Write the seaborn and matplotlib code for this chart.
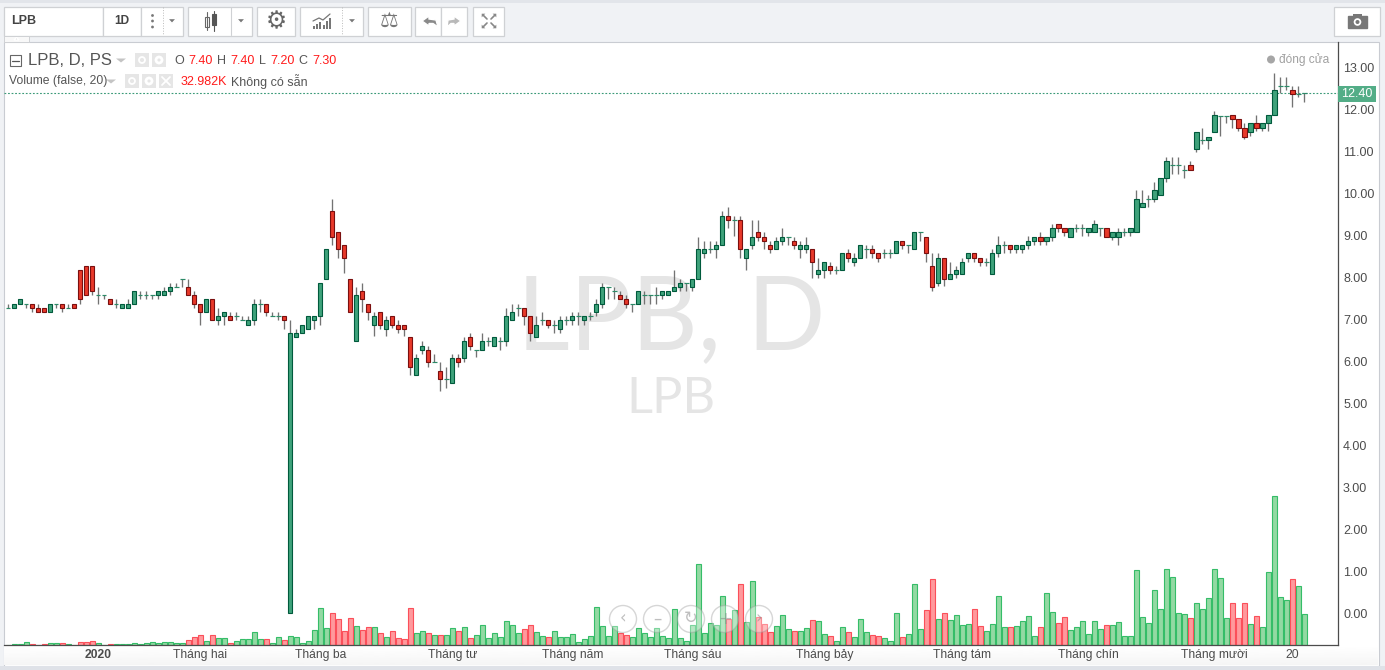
#!/usr/bin/env python3
# LPB daily candles with volume, redrawn from a trading chart screenshot
import numpy as np
import pandas as pd
import seaborn as sns
import matplotlib.pyplot as plt
from matplotlib.patches import Rectangle, Circle, Polygon

opens = [7.26,7.26,7.36,7.36,7.36,7.26,7.26,7.17,7.36,7.36,
         7.26,7.36,8.17,8.26,8.26,7.57,7.57,7.48,7.36,7.26,
         7.26,7.36,7.57,7.57,7.57,7.57,7.57,7.67,7.76,7.95,
         7.76,7.57,7.36,7.17,7.48,6.98,7.07,7.07,7.07,6.98,
         6.86,6.98,7.36,7.36,7.07,7.07,7.07,0.00,6.57,6.67,
         6.76,6.98,7.07,7.95,9.57,9.07,8.76,7.95,6.48,7.67,
         7.36,6.86,7.17,6.76,7.07,6.86,6.86,6.57,5.67,6.26,
         6.26,5.98,5.76,5.57,5.48,6.07,6.07,6.57,6.26,6.26,
         6.48,6.36,6.48,6.48,6.98,7.26,7.26,7.07,6.57,6.98,
         6.98,6.86,6.76,6.98,6.98,7.07,6.98,7.07,7.17,7.36,
         7.76,7.67,7.57,7.48,7.36,7.36,7.57,7.57,7.57,7.57,
         7.57,7.67,7.76,7.86,7.76,7.95,8.57,8.67,8.67,8.76,
         9.45,9.36,9.36,8.45,8.76,9.07,8.95,8.76,8.67,8.86,
         8.95,8.86,8.67,8.67,8.67,8.07,8.17,8.26,8.17,8.17,
         8.57,8.36,8.45,8.67,8.67,8.57,8.57,8.57,8.57,8.86,
         8.76,8.67,9.07,8.95,8.26,7.86,8.45,7.95,8.07,8.07,
         8.45,8.57,8.45,8.36,8.07,8.57,8.76,8.76,8.67,8.67,
         8.76,8.86,8.95,8.86,8.95,9.26,9.17,8.95,9.17,9.17,
         9.07,9.07,9.17,9.17,8.95,8.95,9.07,9.07,9.07,9.67,
         9.86,9.86,9.95,10.36,10.67,10.67,10.55,10.67,11.05,11.26,
         11.26,11.45,11.85,11.85,11.86,11.76,11.55,11.45,11.67,11.55,
         11.67,11.86,12.55,12.55,12.45,12.36,12.38]
highs = [7.36,7.36,7.48,7.36,7.36,7.36,7.26,7.36,7.36,7.36,
         7.36,7.36,8.17,8.26,8.26,7.76,7.57,7.48,7.48,7.36,
         7.48,7.67,7.67,7.67,7.57,7.67,7.76,7.86,7.86,7.95,
         7.95,7.67,7.36,7.48,7.48,7.26,7.17,7.17,7.17,7.07,
         7.07,7.48,7.48,7.36,7.17,7.17,7.07,6.98,6.76,6.86,
         7.07,7.07,7.86,8.67,9.86,9.07,8.76,7.95,7.76,7.86,
         7.36,7.17,7.17,7.07,7.07,6.98,6.86,6.57,6.18,6.48,
         6.36,6.18,5.98,5.86,6.18,6.18,6.57,6.67,6.26,6.67,
         6.57,6.57,6.57,7.26,7.36,7.36,7.26,7.07,7.08,7.17,
         6.98,6.98,7.07,7.07,7.17,7.17,7.07,7.17,7.48,7.86,
         7.76,7.76,7.67,7.57,7.36,7.67,7.67,7.57,7.76,7.67,
         7.67,8.17,7.95,7.86,7.95,8.95,8.86,8.86,8.86,9.57,
         9.67,9.45,9.45,8.67,9.36,9.36,9.07,8.86,8.95,9.18,
         8.95,8.95,8.86,8.95,8.67,8.46,8.36,8.36,8.26,8.57,
         8.67,8.57,8.76,8.76,8.76,8.57,8.67,8.67,8.86,8.86,
         8.76,9.07,9.07,8.95,8.57,8.57,8.45,8.36,8.26,8.45,
         8.57,8.57,8.45,8.45,8.67,8.97,8.86,8.76,8.76,8.76,
         8.97,8.95,9.07,8.95,9.27,9.26,9.17,9.17,9.27,9.27,
         9.17,9.36,9.17,9.17,9.07,9.17,9.17,9.17,10.07,10.07,
         9.95,10.26,10.36,10.86,10.86,10.86,10.67,10.76,11.45,11.55,
         11.35,11.96,11.85,11.85,11.86,11.76,11.67,11.67,11.86,11.67,
         11.86,12.86,12.76,12.76,12.55,12.55,12.38]
lows = [7.26,7.26,7.36,7.26,7.17,7.17,7.17,7.17,7.26,7.17,
        7.26,7.26,7.36,7.57,7.57,7.36,7.48,7.36,7.26,7.26,
        7.26,7.36,7.48,7.48,7.48,7.48,7.57,7.57,7.76,7.76,
        7.57,7.26,6.87,7.17,6.98,6.87,6.87,6.98,6.98,6.98,
        6.86,6.87,7.17,7.07,7.07,6.98,6.77,0.00,6.57,6.67,
        6.76,6.77,6.87,7.95,8.77,8.46,8.09,7.17,6.48,7.17,
        6.98,6.59,6.77,6.59,6.78,6.68,6.59,5.68,5.67,6.18,
        5.87,5.98,5.28,5.37,5.48,5.87,5.98,6.27,6.09,6.26,
        6.37,6.36,6.27,6.37,6.98,7.08,6.87,6.49,6.57,6.87,
        6.78,6.68,6.68,6.87,6.87,6.87,6.87,6.98,7.08,7.27,
        7.48,7.48,7.48,7.27,7.17,7.36,7.37,7.37,7.37,7.48,
        7.57,7.67,7.67,7.67,7.67,7.95,8.46,8.57,8.46,8.76,
        9.18,8.97,8.46,8.17,8.67,8.87,8.67,8.57,8.67,8.76,
        8.76,8.67,8.46,8.57,7.97,7.97,7.97,8.08,8.08,8.17,
        8.37,8.27,8.45,8.46,8.46,8.37,8.46,8.46,8.57,8.67,
        8.57,8.67,8.87,8.37,7.68,7.78,7.78,7.95,7.97,8.07,
        8.36,8.37,8.27,8.27,8.07,8.47,8.57,8.57,8.57,8.57,
        8.67,8.76,8.77,8.76,8.87,9.07,8.97,8.95,9.07,8.97,
        8.97,9.07,8.97,8.95,8.89,8.77,8.97,8.97,9.07,9.67,
        9.68,9.78,9.95,10.26,10.46,10.46,10.36,10.55,10.97,11.17,
        11.06,11.45,11.37,11.67,11.55,11.47,11.28,11.36,11.47,11.47,
        11.47,11.86,12.38,12.46,12.06,12.28,12.18]
closes = [7.26,7.36,7.48,7.36,7.26,7.17,7.17,7.36,7.36,7.26,
          7.26,7.26,7.48,7.57,7.67,7.57,7.57,7.36,7.36,7.36,
          7.36,7.67,7.57,7.57,7.57,7.67,7.67,7.76,7.76,7.95,
          7.57,7.36,7.17,7.48,6.98,7.07,7.17,6.98,7.07,6.98,
          6.98,7.36,7.36,7.17,7.07,7.07,6.98,6.67,6.67,6.86,
          7.07,7.07,7.86,8.67,8.95,8.67,8.45,7.17,7.57,7.48,
          7.17,7.07,6.86,6.98,6.86,6.76,6.76,5.86,6.07,6.36,
          5.98,5.98,5.57,5.57,6.07,5.98,6.48,6.36,6.26,6.48,
          6.48,6.57,6.48,7.07,7.17,7.26,7.07,6.67,6.86,6.98,
          6.86,6.86,6.98,6.98,7.07,7.07,7.07,7.07,7.36,7.76,
          7.76,7.67,7.48,7.36,7.36,7.67,7.57,7.57,7.57,7.67,
          7.67,7.76,7.86,7.86,7.95,8.67,8.67,8.67,8.76,9.45,
          9.36,9.36,8.67,8.67,8.95,8.95,8.86,8.67,8.86,8.95,
          8.95,8.76,8.76,8.76,8.36,8.17,8.36,8.17,8.17,8.57,
          8.45,8.45,8.76,8.67,8.57,8.45,8.57,8.57,8.86,8.76,
          8.76,9.07,9.07,8.57,7.76,8.45,7.95,8.07,8.17,8.36,
          8.57,8.45,8.36,8.36,8.57,8.76,8.76,8.67,8.76,8.76,
          8.86,8.95,8.86,8.95,9.17,9.17,9.07,9.17,9.17,9.17,
          9.17,9.26,9.17,8.95,9.07,9.07,9.07,9.17,9.86,9.76,
          9.86,10.07,10.36,10.76,10.67,10.67,10.55,10.55,11.45,11.26,
          11.35,11.86,11.85,11.85,11.76,11.55,11.35,11.67,11.55,11.67,
          11.86,12.45,12.55,12.55,12.36,12.36,12.38]
# volume in thousand shares
volume = [0,3,3,9,3,0,3,6,6,6,
          3,0,9,9,12,6,0,3,3,3,
          3,6,3,6,9,6,9,9,6,6,
          15,24,30,12,30,21,21,6,12,18,
          18,39,18,18,6,24,15,27,24,6,
          12,45,110,50,96,78,42,81,57,45,
          54,54,36,24,42,21,18,111,36,42,
          36,30,30,30,50,42,54,21,30,60,
          21,36,24,72,60,36,48,60,39,27,
          24,42,24,24,33,9,18,27,114,57,
          27,57,36,30,24,51,36,24,51,27,
          21,108,21,12,60,242,36,66,60,147,
          78,105,183,69,192,84,63,39,57,90,
          48,42,42,51,75,72,33,27,12,54,
          39,24,78,39,30,27,21,12,95,23,
          32,182,47,104,197,77,95,74,89,59,
          62,107,56,41,62,146,53,53,56,71,
          86,26,53,155,98,65,83,44,53,71,
          32,71,47,59,59,68,26,26,224,83,
          65,164,107,227,203,95,92,80,125,107,
          140,227,200,80,125,80,125,62,86,53,
          218,446,143,134,197,176,92]

month_pos = [15, 32, 52, 74, 94, 114, 136, 159, 180, 201, 214]
month_labels = ["2020", "Tháng hai", "Tháng ba", "Tháng tư", "Tháng năm", "Tháng sáu",
                "Tháng bảy", "Tháng tám", "Tháng chín", "Tháng mười", "20"]
price_ticks = list(range(14))
last_price = 12.38

W, H = 1385, 670
GREEN, GREEN_EDGE = "#3fa27b", "#005a3c"
RED, RED_EDGE = "#e8392a", "#7a0f0f"
X_RANGE = (-0.72, 221.5)

sns.set_theme(style="white")
plt.rcParams["font.family"] = ["Liberation Sans", "DejaVu Sans"]

df = pd.DataFrame({"o": opens, "h": highs, "l": lows, "c": closes, "vol": volume})
df["x"] = np.arange(len(df))
df["side"] = np.where(df.c < df.o, "down", "up")

fig = plt.figure(figsize=(W / 100, H / 100), dpi=100, facecolor="#e2e5ea")


def px_axes(x0, y0, x1, y1, **kw):
    return fig.add_axes([x0 / W, 1 - y1 / H, (x1 - x0) / W, (y1 - y0) / H], **kw)


# page chrome behind the chart
bg = px_axes(0, 0, W, H, zorder=0)
bg.set_xlim(0, W)
bg.set_ylim(H, 0)
bg.axis("off")
bg.add_patch(Rectangle((0, 3), W, 667, fc="#f0f2f5", ec="none"))
bg.add_patch(Rectangle((3.5, 41.5), 1375, 624, fc="white", ec="#c9ccd2", lw=0.8))
bg.imshow(np.linspace(1, 0.96, 20).reshape(-1, 1), cmap="gray", vmin=0, vmax=1,
          extent=(4, 1378, 665, 646), aspect="auto", zorder=1)
bg.set_xlim(0, W)
bg.set_ylim(H, 0)
bg.add_patch(Rectangle((0, 666), W, 4, fc="#dfe2e8", ec="none", zorder=2))
bg.add_patch(Rectangle((0, 0), W, 3, fc="#e2e5ea", ec="none", zorder=2))

# volume pane shares the plot box, one unit is a third of a pixel
ax_vol = px_axes(4, 42, 1337.5, 645, zorder=1)
ax_vol.patch.set_alpha(0)
sns.barplot(data=df, x="x", y="vol", hue="side", hue_order=["up", "down"], native_scale=True,
            dodge=False, width=0.94, palette={"up": "#93d9a3", "down": "#ff999c"},
            saturation=1, legend=False, ax=ax_vol)
for cont, edge in zip(ax_vol.containers, ["#35bd68", "#fb4f5a"]):
    for bar in cont:
        bar.set_edgecolor(edge)
        bar.set_linewidth(0.8)
ax_vol.set_xlim(*X_RANGE)
ax_vol.set_ylim(0, 603 * 3)
ax_vol.axis("off")

# watermark sits under the candles
ax_mark = px_axes(4, 42, 1337.5, 645, zorder=0.5)
ax_mark.set_xlim(4, 1337.5)
ax_mark.set_ylim(645, 42)
ax_mark.axis("off")
ax_mark.text(671, 320, "LPB, D", fontsize=74, family="Lato", color="#e5e5e5", ha="center", va="center")
ax_mark.text(671, 399, "LPB", fontsize=36.5, family="Lato", color="#e5e5e5", ha="center", va="center")

# price pane
ax = px_axes(4, 42, 1337.5, 645, zorder=2)
ax.patch.set_alpha(0)
ax.vlines(df.x, df.l, df.h, color="#737373", lw=0.95, zorder=2)
flat = df[df.o == df.c]
ax.hlines(flat.o, flat.x - 0.36, flat.x + 0.36, color="#2c8a68", lw=0.85, zorder=3)
for side, fc, ec in [("up", GREEN, GREEN_EDGE), ("down", RED, RED_EDGE)]:
    part = df[(df.side == side) & (df.o != df.c)]
    ax.bar(part.x, (part.c - part.o).abs(), bottom=part[["o", "c"]].min(axis=1), width=0.68,
           color=fc, edgecolor=ec, linewidth=0.8, zorder=3)
ax.axhline(last_price, color="#3b9a78", lw=0.8, ls=(0, (1.6, 1.6)), zorder=1)

ax.set_xlim(*X_RANGE)
ax.set_ylim(-0.755, 13.60)
ax.yaxis.tick_right()
ax.set_yticks(price_ticks, [f"{v:.2f}" for v in price_ticks])
ax.set_xticks(month_pos, month_labels)
ax.tick_params(axis="y", length=2.5, width=0.7, color="#4c4c4c", labelcolor="#4c4c4c", labelsize=9, pad=1.5)
ax.tick_params(axis="x", length=2, width=0.7, color="#4c4c4c", labelcolor="#4c4c4c", labelsize=8.7, pad=1)
ax.get_xticklabels()[0].set_fontweight("bold")
sns.despine(ax=ax, left=True, top=True, right=False, bottom=False)
for s in ["right", "bottom"]:
    ax.spines[s].set_color("#4c4c4c")
    ax.spines[s].set_linewidth(0.9)

# everything in screen pixels from here on
ui = px_axes(0, 0, W, H, zorder=5)
ui.set_xlim(0, W)
ui.set_ylim(H, 0)
ui.axis("off")
ui.patch.set_alpha(0)

TXT = "#555555"
ui.add_patch(Rectangle((1338, 85.5), 38, 16, fc="#53ad87", ec="none"))
ui.text(1357, 93.7, "12.40", color="white", fontsize=9, ha="center", va="center")

# toolbar buttons
for x0, x1 in [(4, 103), (103, 141), (141, 183), (188, 252), (257, 295), (300, 363),
               (368, 411), (415, 441), (441, 467), (473, 504), (1334, 1380)]:
    ui.add_patch(Rectangle((x0, 6.5), x1 - x0, 29, fc="white", ec="#cfd1d4", lw=0.9))
ui.add_patch(Rectangle((4, 35.5), 25, 6, fc="#f8f8f8", ec="#cfd1d4", lw=0.7))
ui.add_patch(Polygon([(14, 40), (19, 40), (16.5, 37.5)], fc="#c8c8c8"))
ui.text(11, 21, "LPB", fontsize=9, fontweight="bold", color="#444444", va="center")
ui.text(122, 21, "1D", fontsize=8.6, fontweight="bold", color="#444444", ha="center", va="center")
for yy in [15.5, 21, 27]:
    ui.add_patch(Circle((152.5, yy), 1.4, fc="#777777", ec="none"))
for xx in [163, 342]:
    ui.plot([xx, xx], [7, 35], color="#bbbbbb", lw=0.7, ls=":")
ui.plot([231, 231], [7, 35], color="#cfd1d4", lw=0.8)
for cx in [172, 241, 352]:
    ui.add_patch(Polygon([(cx - 4.5, 18.5), (cx + 4.5, 18.5), (cx, 23.5)], fc="#777777"))

# candle icon, gear, bars, scales
ui.plot([206.5, 206.5], [12, 30], color="#666666", lw=0.8)
ui.add_patch(Rectangle((204.5, 17), 4, 10, fc="white", ec="#666666", lw=0.8))
ui.plot([214, 214], [11, 31], color="#555555", lw=0.8)
ui.add_patch(Rectangle((212, 14), 4, 11, fc="#555555", ec="#555555", lw=0.8))
ui.text(276, 21, "⚙", family="DejaVu Sans", fontsize=17, color="#666666", ha="center", va="center")
for xx, top in zip(np.arange(313, 331, 3.2), [26, 24, 22, 25, 21, 18]):
    ui.add_patch(Rectangle((xx, top), 2, 29 - top, fc="#777777", ec="none"))
ui.plot([313, 319, 323, 330], [21, 18, 20, 14], color="#777777", lw=0.9)
ui.text(389.5, 21, "⚖", family="DejaVu Sans", fontsize=15, color="#777777", ha="center", va="center")

# undo, redo
ui.add_patch(Polygon([(422, 21), (429, 16), (429, 19), (436, 20), (438, 27), (433, 23.5), (429, 23.5), (429, 26)], fc="#8a8a8a"))
ui.add_patch(Polygon([(461, 21), (454, 16), (454, 19), (448, 20), (447, 27), (451, 23.5), (454, 23.5), (454, 26)], fc="#b9b9b9"))

# fullscreen corners
for (cx, cy), (dx, dy) in zip([(481, 13), (497, 13), (481, 29), (497, 29)], [(1, 1), (-1, 1), (1, -1), (-1, -1)]):
    ui.add_patch(Polygon([(cx, cy), (cx + 6 * dx, cy), (cx, cy + 6 * dy)], fc="#888888"))
    ui.plot([cx + 2 * dx, cx + 6 * dx], [cy + 2 * dy, cy + 6 * dy], color="#888888", lw=1.2)

# camera
ui.add_patch(Rectangle((1348, 16), 19, 12, fc="#777777", ec="#777777", lw=1))
ui.add_patch(Rectangle((1353, 13.5), 9, 3, fc="#777777", ec="none"))
ui.add_patch(Circle((1357.5, 22), 3.8, fc="white", ec="none"))
ui.add_patch(Circle((1357.5, 22), 2, fc="#777777", ec="none"))

# legend rows
ui.add_patch(Rectangle((9.5, 55), 11, 11, fc="white", ec="#666666", lw=0.8))
ui.plot([11.5, 18.5], [60.5, 60.5], color="#555555", lw=0.9)
ui.text(28, 60.5, "LPB, D, PS", fontsize=12, color=TXT, va="center")
ui.add_patch(Polygon([(116, 58.5), (126, 58.5), (121, 62.5)], fc="#c4c4c4", ec="none"))
for xx in [135, 152]:
    ui.add_patch(Rectangle((xx, 53), 14, 14, fc="#e6e6e6", ec="none"))
ui.add_patch(Circle((142, 60), 3, fc="none", ec="white", lw=1.3))
ui.add_patch(Circle((159, 60), 3, fc="none", ec="white", lw=2))
for xx, s, col in [(174, "O", TXT), (188, "7.40", "#ff1a1a"), (217, "H", TXT), (230, "7.40", "#ff1a1a"),
                   (259, "L", TXT), (270, "7.20", "#ff1a1a"), (298, "C", TXT), (312, "7.30", "#ff1a1a")]:
    ui.text(xx, 61, s, fontsize=9, color=col, va="center")
ui.text(9, 81, "Volume (false, 20)", fontsize=8.7, color=TXT, va="center")
ui.add_patch(Polygon([(106, 79.5), (116, 79.5), (111, 83.5)], fc="#c4c4c4", ec="none"))
for xx in [125, 142, 159]:
    ui.add_patch(Rectangle((xx, 74), 14, 14, fc="#e6e6e6", ec="none"))
ui.add_patch(Circle((132, 81), 3, fc="none", ec="white", lw=1.3))
ui.add_patch(Circle((149, 81), 3, fc="none", ec="white", lw=2))
ui.plot([162, 170], [77, 85], color="white", lw=1.3)
ui.plot([162, 170], [85, 77], color="white", lw=1.3)
ui.text(181, 82, "32.982K", fontsize=9, color="#ff1a1a", va="center")
ui.text(231, 82, "Không có sẵn", fontsize=9, color=TXT, va="center")
ui.add_patch(Circle((1271, 59.5), 4, fc="#a6a6a6", ec="none"))
ui.text(1279, 59.5, "đóng cửa", fontsize=8.6, color="#a0a0a0", va="center")

# zoom controls over the volume bars
for cx, s in zip([623, 657, 691, 725, 759], ["‹", "–", "↻", "+", "›"]):
    ui.add_patch(Circle((cx, 619), 13.5, fc=(1, 1, 1, 0.35), ec=(0.6, 0.6, 0.6, 0.4), lw=1))
    ui.text(cx, 618.5, s, family="DejaVu Sans", fontsize=12, color=(0.5, 0.5, 0.5, 0.5), ha="center", va="center")

fig.savefig("out.png", dpi=100, facecolor=fig.get_facecolor())
